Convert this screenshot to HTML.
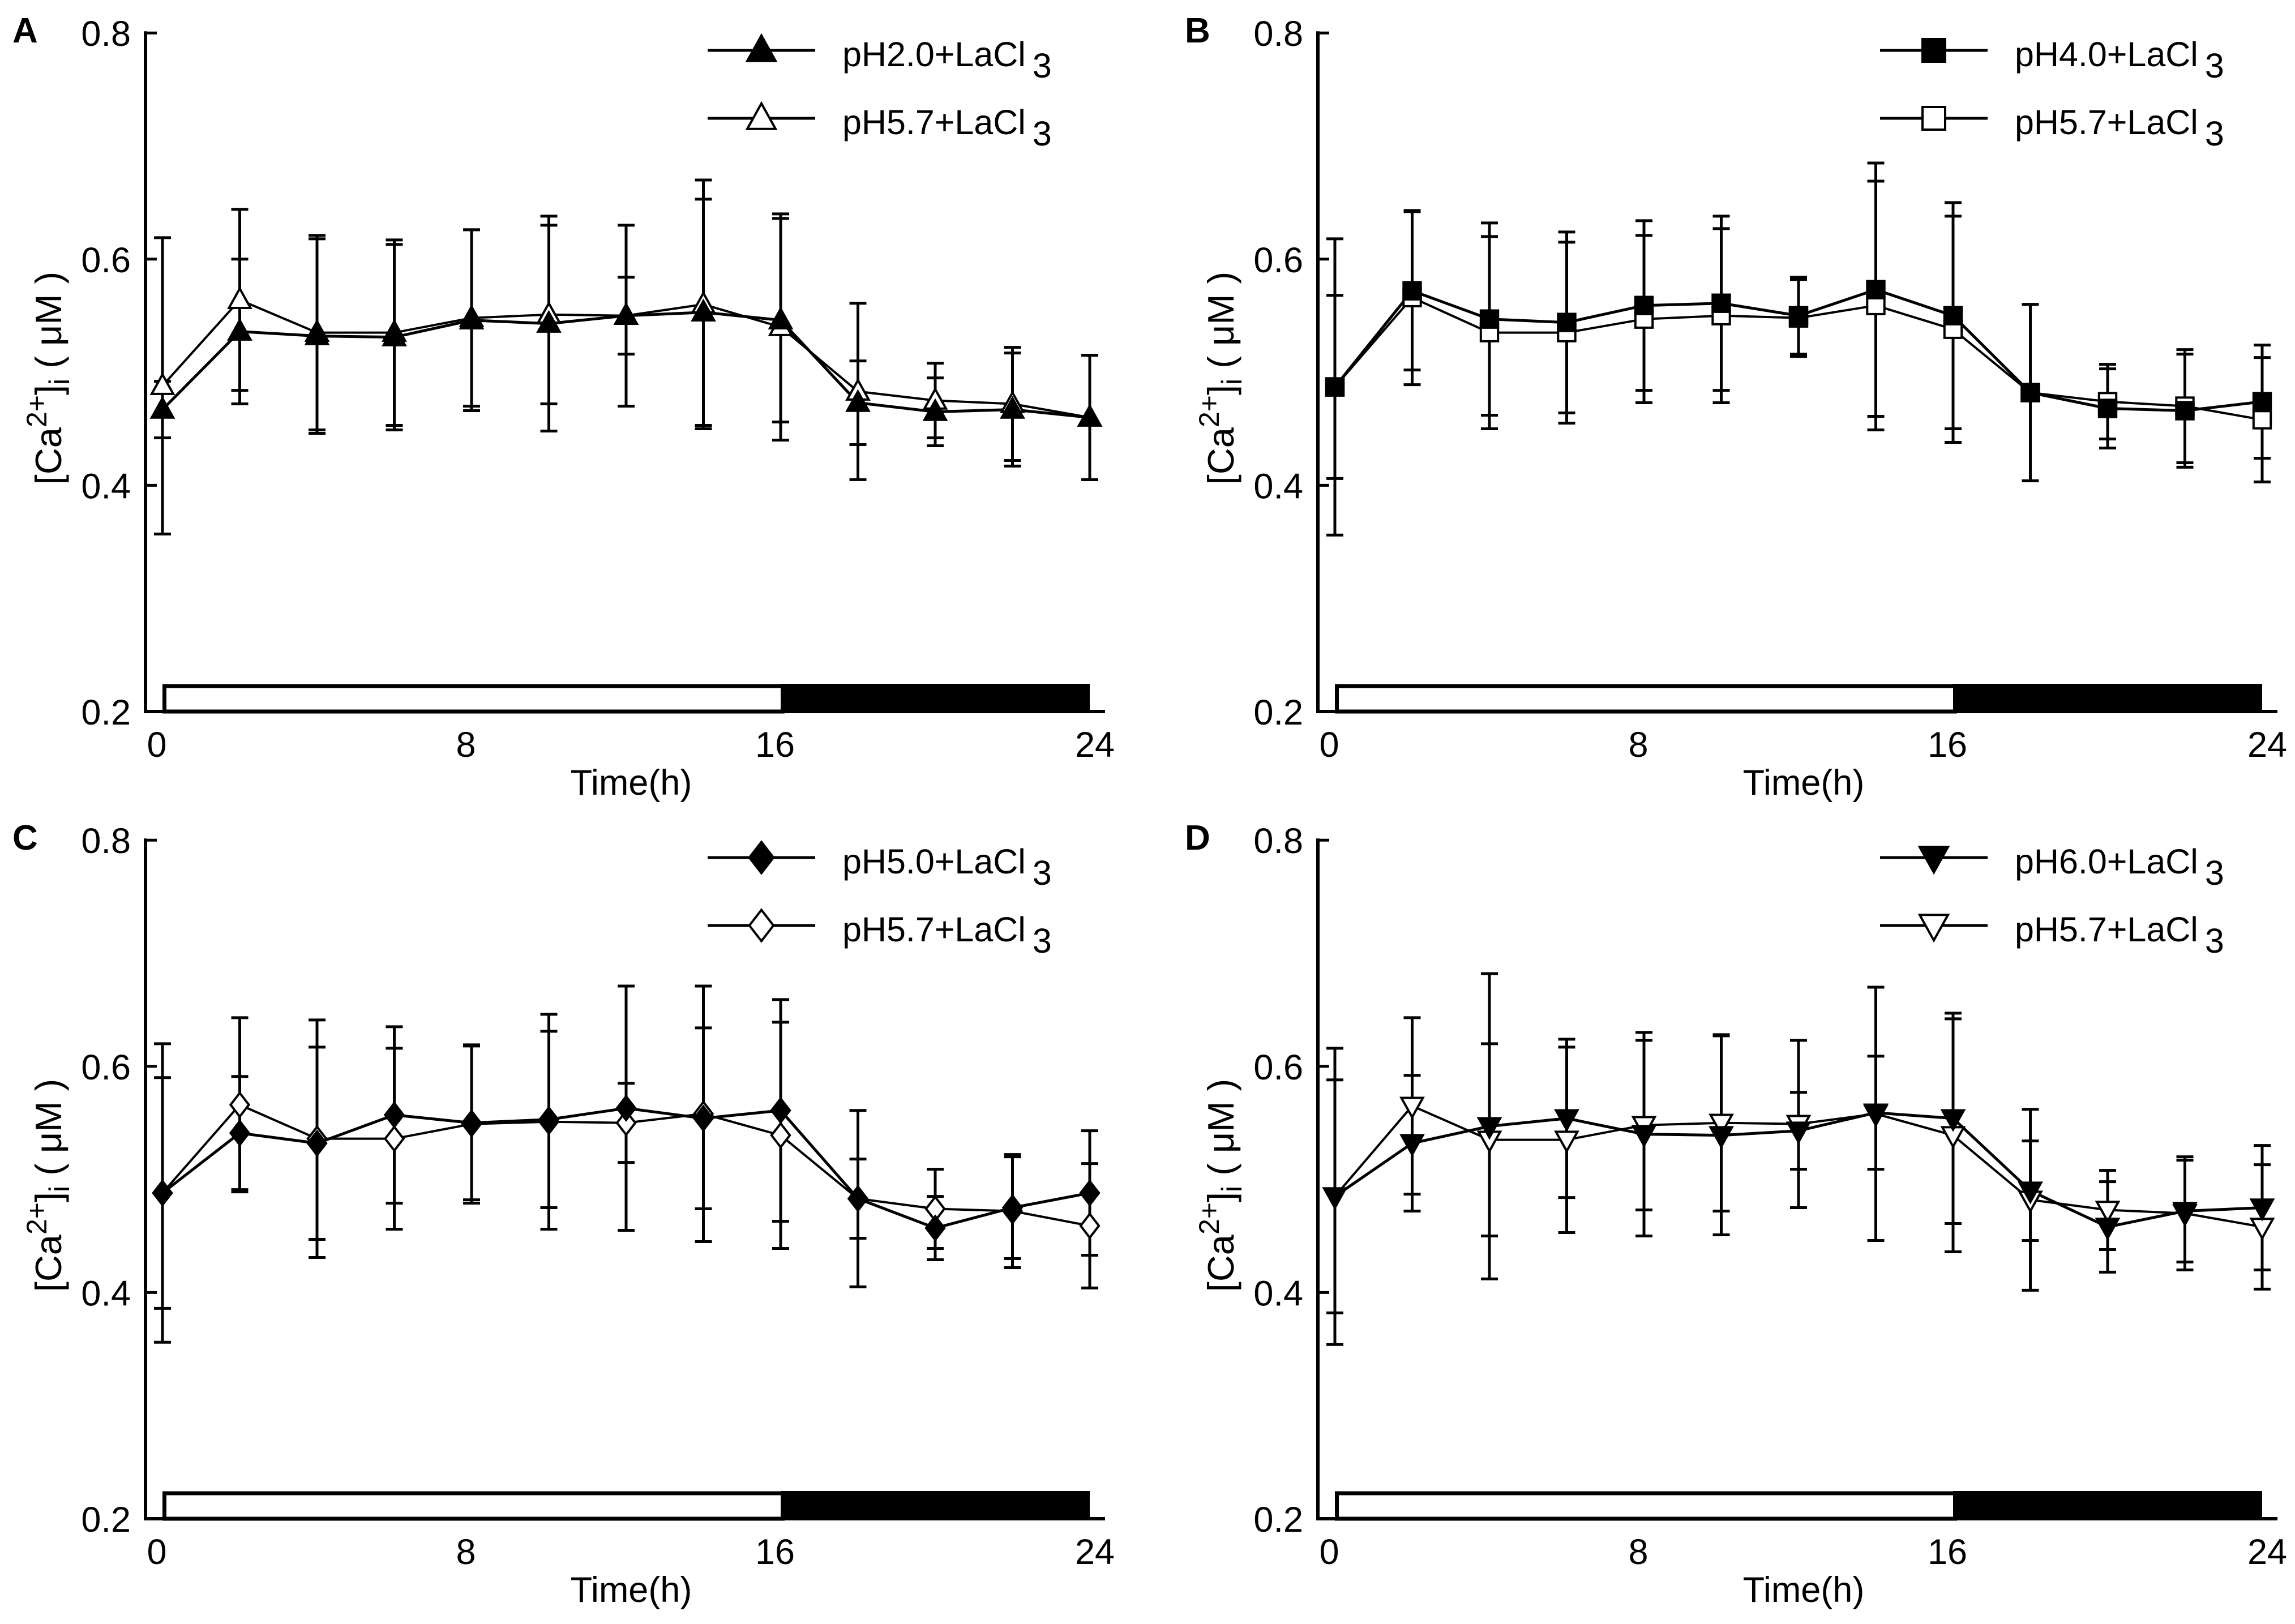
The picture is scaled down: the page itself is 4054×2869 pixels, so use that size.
<!DOCTYPE html>
<html><head><meta charset="utf-8">
<style>
html,body{margin:0;padding:0;background:#fff;}
svg{display:block;font-family:"Liberation Sans",Arial,sans-serif;}
</style></head>
<body>
<svg id="fig" width="4054" height="2869" viewBox="0 0 4054 2869" xmlns="http://www.w3.org/2000/svg"></svg>
<script>
// ---- data ----
const times = [0,2,4,6,8,10,12,14,16,18,20,22,24];
const yTicks = [0.2,0.4,0.6,0.8];
const yTickLabels = ["0.2","0.4","0.6","0.8"];
const xTicks = [0,8,16,24];
const xTickLabels = ["0","8","16","24"];
const panelLetters = ["A","B","C","D"];
const treatLabels = ["pH2.0+LaCl","pH4.0+LaCl","pH5.0+LaCl","pH6.0+LaCl"];
const ctrlLabel = "pH5.7+LaCl";
const markerShapes = ["triangle","square","diamond","invtriangle"];

const aTreat = [0.467,0.536,0.532,0.531,0.546,0.543,0.550,0.553,0.546,0.473,0.465,0.467,0.460];
const aTreatErr = [0.025,0.064,0.086,0.082,0.080,0.095,0.034,0.100,0.090,0.037,0.030,0.050,0.055];
const aCtrl = [0.488,0.564,0.535,0.535,0.548,0.551,0.550,0.560,0.540,0.483,0.475,0.472,0.460];
const aCtrlErr = [0.131,0.080,0.086,0.082,0.078,0.079,0.080,0.110,0.100,0.078,0.033,0.050,0.055];

const bTreat = [0.487,0.572,0.547,0.544,0.559,0.561,0.550,0.573,0.550,0.482,0.468,0.466,0.474];
const bTreatErr = [0.081,0.070,0.085,0.080,0.075,0.077,0.034,0.112,0.100,0.078,0.035,0.050,0.050];
const bCtrl = [0.487,0.566,0.535,0.535,0.547,0.550,0.548,0.559,0.538,0.482,0.474,0.470,0.458];
const bCtrlErr = [0.131,0.077,0.085,0.080,0.074,0.077,0.034,0.110,0.100,0.078,0.033,0.050,0.055];

const cTreat = [0.488,0.541,0.532,0.557,0.550,0.553,0.563,0.554,0.561,0.483,0.457,0.475,0.488];
const cTreatErr = [0.102,0.050,0.085,0.078,0.068,0.078,0.108,0.080,0.098,0.035,0.028,0.045,0.055];
const cCtrl = [0.488,0.566,0.536,0.536,0.549,0.551,0.550,0.558,0.539,0.483,0.474,0.472,0.459];
const cCtrlErr = [0.132,0.077,0.105,0.080,0.070,0.095,0.035,0.113,0.100,0.078,0.035,0.050,0.055];

const dTreat = [0.485,0.532,0.547,0.554,0.540,0.539,0.543,0.559,0.554,0.490,0.458,0.472,0.475];
const dTreatErr = [0.103,0.060,0.135,0.070,0.090,0.088,0.034,0.050,0.093,0.044,0.040,0.045,0.055];
const dCtrl = [0.485,0.565,0.535,0.535,0.548,0.550,0.549,0.558,0.539,0.482,0.473,0.470,0.458];
const dCtrlErr = [0.131,0.078,0.085,0.082,0.075,0.078,0.074,0.112,0.103,0.080,0.035,0.050,0.055];

const treatSeries = [aTreat,bTreat,cTreat,dTreat];
const treatErrs = [aTreatErr,bTreatErr,cTreatErr,dTreatErr];
const ctrlSeries = [aCtrl,bCtrl,cCtrl,dCtrl];
const ctrlErrs = [aCtrlErr,bCtrlErr,cCtrlErr,dCtrlErr];

// ---- drawing ----
const NS = "http://www.w3.org/2000/svg";
const svg = document.getElementById("fig");
function el(tag, attrs, parent){
  const e = document.createElementNS(NS, tag);
  for (const k in attrs) e.setAttribute(k, attrs[k]);
  (parent||svg).appendChild(e);
  return e;
}
const offsets = [[0,0],[2071,0],[0,1426],[2071,1426]];

function marker(g, shape, cx, cy, filled, s){
  const fill = filled ? "#000" : "#fff";
  let m;
  if (shape==="triangle"){
    m = el("polygon",{points:`${cx},${cy-s*1.05} ${cx-s},${cy+s*0.75} ${cx+s},${cy+s*0.75}`,fill:fill,stroke:"#000","stroke-width":4},g);
  } else if (shape==="invtriangle"){
    m = el("polygon",{points:`${cx},${cy+s*1.05} ${cx-s},${cy-s*0.75} ${cx+s},${cy-s*0.75}`,fill:fill,stroke:"#000","stroke-width":4},g);
  } else if (shape==="square"){
    m = el("rect",{x:cx-s*0.8,y:cy-s*0.8,width:s*1.6,height:s*1.6,fill:fill,stroke:"#000","stroke-width":4},g);
  } else {
    m = el("polygon",{points:`${cx},${cy-s*1.1} ${cx+s*0.85},${cy} ${cx},${cy+s*1.1} ${cx-s*0.85},${cy}`,fill:fill,stroke:"#000","stroke-width":4},g);
  }
  return m;
}

for (let p=0;p<4;p++){
  const [ox,oy] = offsets[p];
  const axX = 257+ox, axBottom = 1257+oy;
  const xs = t => 287+ox + t*68.25;
  const ys = v => axBottom - (v-0.2)*1998;
  const g = el("g",{});
  
  

  const lt = el("text",{x:22+ox,y:75+oy,"font-size":62,"font-weight":"bold"},g);
  lt.textContent = panelLetters[p];
  
  

  const ya = el("line",{x1:axX,y1:ys(0.8)-3,x2:axX,y2:axBottom+3,stroke:"#000","stroke-width":6},g);
  
  
  const xa = el("line",{x1:axX-3,y1:axBottom,x2:1952+ox,y2:axBottom,stroke:"#000","stroke-width":6},g);
  
  

  yTicks.forEach((v,i)=>{
    if (i>0) el("line",{x1:axX,y1:ys(v),x2:axX+20,y2:ys(v),stroke:"#000","stroke-width":5},g);
    const t = el("text",{x:axX-26,y:ys(v)+23,"font-size":63,"text-anchor":"end"},g);
    t.textContent = yTickLabels[i];
    
    
  });
  xTicks.forEach((v,i)=>{
    const t = el("text",{x:xs(v)+(i===xTicks.length-1?9:-10),y:axBottom+80,"font-size":63,"text-anchor":"middle"},g);
    t.textContent = xTickLabels[i];
    
    
  });
  const xt = el("text",{x:1115+ox,y:1404+oy,"font-size":63,"text-anchor":"middle"},g);
  xt.textContent = "Time(h)";
  
  

  const yt = el("text",{x:0,y:0,"font-size":65,"text-anchor":"middle",transform:`translate(${108+ox},${668+oy}) rotate(-90)`},g);
  
  
  yt.innerHTML = '[Ca<tspan dy="-26" font-size="50">2+</tspan><tspan dy="26">]</tspan><tspan dy="14" font-size="50">i</tspan><tspan dy="-14"> ( μM )</tspan>';

  const wb = el("rect",{x:xs(0)+3.5,y:1212+oy,width:xs(16)-xs(0),height:axBottom-1212-oy,fill:"#fff",stroke:"#000","stroke-width":7},g);
  
  
  const bb = el("rect",{x:xs(16),y:1208+oy,width:xs(24)-xs(16),height:axBottom-1208-oy,fill:"#000"},g);
  
  

  const sets = [[ctrlSeries[p],ctrlErrs[p],false,"control"],[treatSeries[p],treatErrs[p],true,"treatment"]];
  sets.forEach(([vals,errs,filled,nm])=>{
    const sg = el("g",{},g);
    
    
    times.forEach((t,i)=>{
      const x = xs(t), y1 = ys(vals[i]+errs[i]), y2 = ys(vals[i]-errs[i]);
      const eb = el("path",{d:`M${x},${y1}V${y2}M${x-15},${y1}H${x+15}M${x-15},${y2}H${x+15}`,stroke:"#000","stroke-width":5,fill:"none"},sg);
      
      
    });
    const pts = times.map((t,i)=>`${xs(t)},${ys(vals[i])}`).join(" ");
    const ln = el("polyline",{points:pts,fill:"none",stroke:"#000","stroke-width":filled?5:4},sg);
    
    
  });
  sets.forEach(([vals,errs,filled,nm])=>{
    times.forEach((t,i)=>{
      const m = marker(g, markerShapes[p], xs(t), ys(vals[i]), filled, 19);
      
      
    });
  });

  const legRows = [[treatLabels[p],true,89],[ctrlLabel,false,209]];
  legRows.forEach(([lab,filled,ly])=>{
    const lg = el("g",{},g);
    
    
    el("line",{x1:1250+ox,y1:ly+oy,x2:1440+ox,y2:ly+oy,stroke:"#000","stroke-width":5},lg);
    marker(lg, markerShapes[p], 1345+ox, ly+oy, filled, 25);
    const tx = el("text",{x:1488+ox,y:ly+oy+28,"font-size":61},lg);
    tx.innerHTML = lab + '<tspan dx="12" dy="20">3</tspan>';
  });
}
</script>
</body></html>
